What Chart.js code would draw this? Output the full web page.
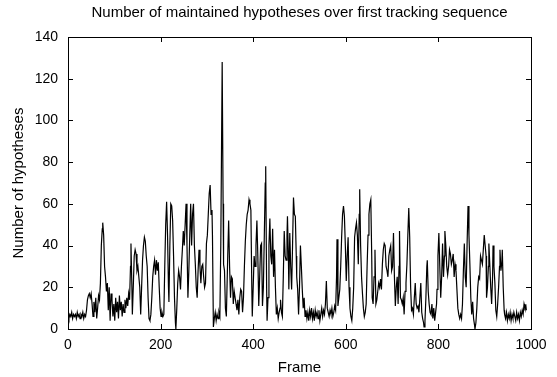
<!DOCTYPE html>
<html>
  <head>
    <title>Hypotheses per frame</title>
    <script src="https://cdn.jsdelivr.net/npm/chart.js/dist/chart.umd.min.js"></script>
    <style>
      body { margin: 0; background: #fff; }
      canvas { display: block; }
    </style>
  </head>
  <body>
    <canvas id="hypChart" width="557" height="377"></canvas>
    <script>
    // values, one line per 10 samples
    const frames = [
      0, 2, 4, 6, 8, 10, 12, 14, 16, 18,
      20, 22, 24, 26, 28, 30, 32, 34, 36, 38,
      40, 42, 44, 46, 48, 50, 52, 54, 56, 58,
      60, 62, 64, 66, 68, 70, 72, 74, 75, 77,
      79, 81, 83, 85, 87, 89, 91, 93, 95, 97,
      99, 101, 103, 105, 107, 109, 111, 113, 115, 117,
      119, 121, 123, 125, 127, 129, 131, 133, 135, 136,
      138, 139, 141, 143, 145, 147, 149, 151, 153, 155,
      157, 159, 161, 163, 165, 167, 169, 171, 173, 175,
      177, 179, 181, 183, 185, 187, 189, 191, 193, 195,
      197, 199, 201, 203, 205, 207, 209, 211, 213, 215,
      217, 218, 220, 222, 224, 226, 228, 230, 232, 233,
      235, 237, 239, 241, 243, 245, 247, 249, 251, 253,
      255, 257, 259, 261, 263, 265, 267, 269, 271, 273,
      275, 277, 279, 281, 283, 285, 287, 289, 291, 293,
      295, 297, 299, 301, 303, 305, 307, 309, 311, 312,
      314, 316, 318, 320, 322, 324, 326, 328, 330, 333,
      335, 336, 338, 340, 342, 345, 347, 349, 351, 353,
      355, 357, 359, 361, 363, 365, 367, 369, 371, 373,
      375, 377, 379, 381, 383, 385, 387, 389, 391, 393,
      395, 397, 398, 400, 402, 404, 406, 408, 410, 412,
      414, 416, 418, 420, 422, 424, 426, 427, 429, 430,
      432, 434, 436, 438, 440, 442, 444, 446, 448, 450,
      452, 454, 456, 458, 459, 461, 463, 465, 467, 469,
      471, 473, 474, 476, 477, 479, 481, 483, 485, 487,
      489, 491, 493, 494, 496, 498, 500, 502, 504, 506,
      508, 510, 512, 514, 516, 518, 520, 522, 524, 526,
      528, 530, 532, 534, 536, 538, 540, 542, 544, 546,
      548, 550, 552, 554, 556, 558, 560, 562, 564, 566,
      568, 570, 572, 574, 576, 578, 580, 581, 583, 585,
      587, 589, 591, 593, 595, 597, 599, 601, 603, 605,
      607, 609, 611, 613, 615, 617, 619, 621, 623, 625,
      627, 629, 630, 632, 634, 636, 638, 640, 642, 644,
      646, 648, 650, 652, 654, 656, 657, 659, 661, 663,
      665, 667, 669, 671, 673, 675, 677, 679, 681, 683,
      685, 687, 689, 691, 693, 695, 697, 699, 701, 703,
      705, 707, 709, 711, 713, 715, 716, 718, 720, 722,
      724, 726, 728, 730, 732, 734, 736, 738, 740, 742,
      744, 746, 748, 750, 752, 754, 756, 758, 760, 762,
      764, 766, 768, 769, 771, 773, 775, 776, 778, 780,
      782, 784, 786, 788, 790, 792, 794, 796, 797, 799,
      801, 803, 805, 807, 809, 811, 813, 814, 816, 818,
      820, 822, 824, 826, 828, 830, 832, 834, 836, 838,
      840, 842, 844, 846, 848, 850, 852, 854, 856, 858,
      860, 862, 864, 866, 868, 870, 872, 874, 876, 878,
      879, 881, 883, 885, 887, 889, 891, 893, 895, 897,
      899, 901, 903, 904, 906, 908, 909, 911, 913, 915,
      917, 918, 920, 922, 924, 926, 928, 930, 932, 933,
      935, 937, 938, 940, 942, 943, 945, 947, 949, 951,
      953, 955, 957, 959, 961, 963, 965, 967, 969, 971,
      973, 975, 977, 979, 981, 983, 985, 987, 989, 990
    ];
    const hypotheses = [
      7, 5, 7, 6, 8, 5, 7, 6, 7, 5,
      8, 6, 7, 5, 7, 6, 8, 5, 7, 6,
      9, 14, 16, 17, 15, 17, 12, 6, 13, 8,
      15, 5, 10, 16, 14, 22, 40, 48, 51, 45,
      30, 25, 18, 22, 9, 20, 4, 17, 14, 6,
      12, 4, 15, 8, 13, 5, 16, 9, 13, 6,
      12, 8, 14, 10, 15, 11, 17, 14, 30, 41,
      20, 7, 20, 35, 38, 36, 28, 30, 25, 20,
      7, 20, 33, 40, 44, 42, 35, 30, 15, 5,
      4, 7, 15, 25, 30, 33, 26, 33, 28, 32,
      20, 10, 6, 8, 6, 7, 30, 50, 61, 45,
      20, 13, 40, 60, 59, 52, 35, 15, 3, 0,
      10, 22, 28, 25, 19, 30, 38, 47, 40, 50,
      60, 40, 15, 28, 45, 60, 40, 55, 60, 40,
      31, 20, 15, 28, 38, 30, 22, 30, 31, 25,
      20, 22, 41, 45, 55, 65, 69, 55, 57, 45,
      1, 5, 8, 4, 7, 5, 8, 6, 40, 128,
      60, 31, 28, 10, 6, 35, 52, 30, 15, 25,
      24, 12, 18, 15, 12, 9, 14, 7, 15, 19,
      18, 8, 15, 30, 42, 50, 55, 57, 62, 60,
      57, 20, 6, 20, 35, 30, 40, 52, 35, 11,
      25, 40, 41, 11, 20, 45, 70, 78, 20, 4,
      15, 40, 53, 35, 31, 48, 25, 38, 20, 7,
      10, 5, 8, 10, 14, 8, 6, 25, 47, 35,
      33, 45, 54, 35, 19, 46, 30, 19, 40, 63,
      55, 54, 35, 25, 19, 7, 20, 40, 30, 19,
      10, 15, 6, 9, 5, 8, 4, 9, 6, 10,
      5, 8, 4, 9, 6, 8, 5, 9, 4, 7,
      10, 6, 9, 7, 12, 23, 10, 8, 6, 9,
      7, 10, 6, 8, 11, 9, 25, 43, 11, 15,
      19, 30, 44, 55, 59, 54, 40, 23, 35, 44,
      20, 10, 6, 4, 10, 20, 44, 48, 51, 45,
      31, 55, 67, 40, 25, 17, 10, 6, 8, 12,
      30, 45, 55, 60, 62, 35, 15, 12, 25, 38,
      12, 14, 18, 22, 20, 24, 19, 31, 38, 41,
      40, 30, 28, 25, 35, 38, 40, 28, 30, 46,
      25, 11, 20, 25, 12, 30, 47, 15, 14, 12,
      15, 7, 18, 22, 31, 45, 58, 44, 20, 9,
      10, 7, 15, 22, 12, 10, 11, 8, 15, 22,
      8, 5, 3, 1, 4, 15, 30, 33, 18, 12,
      8, 7, 12, 5, 10, 4, 8, 12, 19, 35,
      46, 30, 15, 25, 41, 25, 35, 47, 40, 30,
      26, 30, 38, 36, 31, 33, 36, 25, 31, 28,
      19, 10, 7, 5, 7, 5, 12, 28, 41, 25,
      20, 41, 59, 45, 31, 15, 7, 13, 5, 2,
      0, 3, 10, 20, 25, 24, 35, 33, 31, 38,
      45, 40, 35, 15, 20, 30, 41, 31, 20, 12,
      25, 40, 30, 22, 9, 6, 12, 20, 30, 38,
      28, 32, 38, 20, 9, 7, 5, 8, 4, 7,
      5, 8, 4, 7, 5, 8, 6, 4, 8, 5,
      7, 4, 8, 6, 9, 7, 12, 10, 11, 9
    ];
    const xTicks = [0, 200, 400, 600, 800, 1000];
    const yTicks = [0, 20, 40, 60, 80, 100, 120, 140];

    Chart.defaults.font.family = '"Liberation Sans", Arial, sans-serif';
    Chart.defaults.font.size = 14;
    Chart.defaults.color = '#000';

    // gnuplot style box with inward ticks on all four sides
    const boxAndTicks = {
      id: 'boxAndTicks',
      afterDraw(chart) {
        const ctx = chart.ctx;
        const a = chart.chartArea;
        const sx = chart.scales.x, sy = chart.scales.y;
        const len = 5;
        ctx.save();
        ctx.strokeStyle = '#000';
        ctx.lineWidth = 1;
        ctx.strokeRect(a.left + 0.5, a.top + 0.5, a.right - a.left, a.bottom - a.top);
        ctx.beginPath();
        sx.ticks.forEach(t => {
          const px = Math.round(sx.getPixelForValue(t.value)) + 0.5;
          ctx.moveTo(px, a.bottom); ctx.lineTo(px, a.bottom - len);
          ctx.moveTo(px, a.top); ctx.lineTo(px, a.top + len);
        });
        sy.ticks.forEach(t => {
          const py = Math.round(sy.getPixelForValue(t.value)) + 0.5;
          ctx.moveTo(a.left, py); ctx.lineTo(a.left + len, py);
          ctx.moveTo(a.right, py); ctx.lineTo(a.right - len, py);
        });
        ctx.stroke();
        ctx.restore();
      }
    };

    const hypChart = new Chart(document.getElementById('hypChart'), {
      type: 'line',
      data: {
        datasets: [{
          data: frames.map((f, i) => ({ x: f, y: hypotheses[i] })),
          borderColor: '#000',
          borderWidth: 1.2,
          pointRadius: 0,
          tension: 0,
          fill: false
        }]
      },
      options: {
        responsive: false,
        animation: false,
        layout: { padding: { top: 0, right: 26, bottom: 0, left: 0 } },
        plugins: {
          legend: { display: false },
          tooltip: { enabled: false },
          title: {
            display: true,
            fullSize: false,
            text: 'Number of maintained hypotheses over first tracking sequence',
            color: '#000',
            font: { size: 15, weight: 'normal' },
            padding: { top: 4, bottom: 15 }
          }
        },
        scales: {
          x: {
            type: 'linear',
            min: 0,
            max: 1000,
            afterBuildTicks: s => { s.ticks = xTicks.map(v => ({ value: v })); },
            afterFit: s => { s.height = 48; },
            grid: { display: false, drawTicks: false },
            border: { display: false },
            ticks: { padding: 8, maxRotation: 0, color: '#000', callback: v => String(v) },
            title: { display: true, text: 'Frame', color: '#000', font: { size: 15 }, padding: { top: 2, bottom: 0 } }
          },
          y: {
            min: 0,
            max: 140,
            afterBuildTicks: s => { s.ticks = yTicks.map(v => ({ value: v })); },
            afterFit: s => { s.width = 68; },
            grid: { display: false, drawTicks: false },
            border: { display: false },
            ticks: { padding: 10, color: '#000', callback: v => String(v) },
            title: { display: true, text: 'Number of hypotheses', color: '#000', font: { size: 15 }, padding: { top: 10, bottom: 0 } }
          }
        }
      },
      plugins: [boxAndTicks]
    });
    </script>
  </body>
</html>
